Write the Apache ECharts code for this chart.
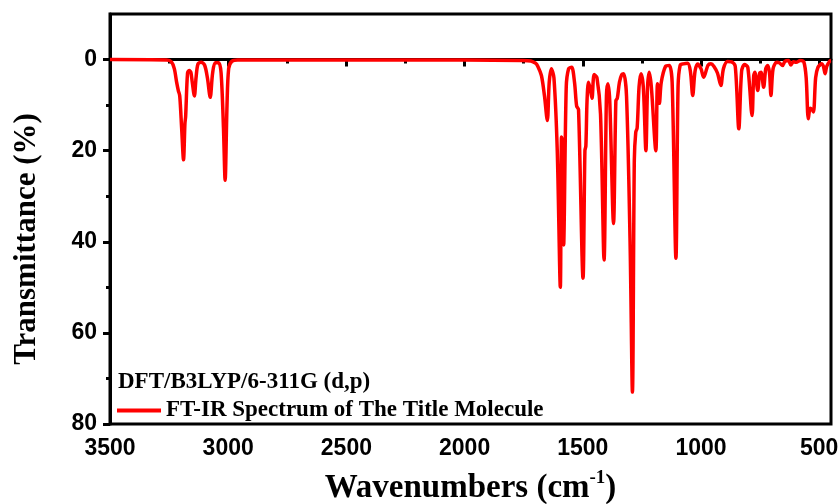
<!DOCTYPE html>
<html>
<head>
<meta charset="utf-8">
<script src="https://cdn.jsdelivr.net/npm/echarts@6/dist/echarts.min.js"></script>
<style>
  html, body { margin: 0; padding: 0; background: #fff; }
  #main { width: 840px; height: 504px; }
</style>
</head>
<body>
<div id="main"></div>
<script>
// spectrum: wavenumber (cm-1) and transmittance (%)
const wavenumber = [
  3500, 3260, 3240, 3228, 3218, 3211, 3205, 3197, 3189, 3183, 3180, 3172, 3165, 3158, 3152, 3143,
  3136, 3128, 3115, 3100, 3088, 3076, 3066, 3055, 3040, 3030, 3020, 3013, 3005, 2998, 2985, 2960,
  2500, 2000, 1760,
  1720, 1700, 1690, 1675, 1662, 1650, 1642, 1633, 1622, 1608, 1595, 1590, 1586, 1581, 1570, 1560,
  1547, 1535, 1526, 1518, 1499, 1491, 1487, 1482, 1476, 1468, 1461, 1452, 1440, 1425, 1410, 1400,
  1394, 1386, 1370, 1360, 1354, 1345, 1335, 1327, 1315, 1300, 1290, 1282, 1276, 1270, 1262, 1254,
  1244, 1233, 1226, 1219, 1210, 1191, 1184, 1176, 1168, 1150, 1134, 1122, 1106, 1097, 1088, 1075,
  1057, 1045, 1035, 1025, 1014, 1000, 989, 982, 970, 958, 945, 930, 916, 905, 888, 870,
  855, 840, 828, 816, 802, 784, 777, 772, 760, 752, 746, 735, 726, 718, 710, 704,
  695, 680, 669, 655, 645, 630, 620, 610, 597, 580, 565, 555, 546, 538, 530, 524,
  515, 505, 490, 482, 475, 468, 455, 450
]
const transmittance = [
  0, 0.1, 0.5, 2, 5, 6.8, 8, 15, 22, 14, 12.5, 3, 2.4, 2.8, 5, 8,
  4, 1, 0.6, 1.2, 4, 8.3, 3, 0.7, 0.7, 3, 15, 26.5, 10, 2, 0.4, 0.1,
  0.1, 0.1, 0.2,
  0.3, 0.8, 1.5, 3.5, 8, 13.4, 5, 2, 4, 20, 50, 17, 18, 40.7, 6, 2,
  1.7, 5, 10.2, 11, 48, 20, 19, 9, 5, 6.5, 8.5, 3.3, 4, 12, 44, 8,
  5.3, 9, 36, 9, 8.5, 5, 3.3, 3.1, 8, 40, 73, 22, 16, 15, 6, 3.1,
  6, 20, 6, 2.8, 6, 20, 5.3, 9.6, 5, 1.5, 1.3, 5, 43.6, 6, 1.2, 0.95,
  0.8, 2.5, 7.9, 2.5, 0.95, 2, 3.9, 3.1, 1.2, 0.9, 1.5, 3, 5.7, 2, 0.4, 0.5,
  1.5, 15.2, 2.5, 1.1, 1.7, 12.3, 3.5, 2.8, 6.8, 3, 2.8, 6.1, 2, 1.3, 3, 7.9,
  2, 0.6, 0.7, 1.3, 0.4, 0.2, 1.2, 0.5, 0.6, 0.2, 0.5, 4, 13, 10.7, 11, 11.5,
  4, 1.7, 0.9, 1.5, 3.1, 1.5, 0.3, 0.2
]
const xTicks = [3500, 3000, 2500, 2000, 1500, 1000, 500]
const xMinorTicks = [3250, 2750, 2250, 1750, 1250, 750]
const yTicks = [0, 20, 40, 60, 80]
const yMinorTicks = [10, 30, 50, 70]

const seriesName = 'FT-IR Spectrum of The Title Molecule'
const serif = '"Liberation Serif", "Times New Roman", serif'
const sans = '"Liberation Sans", Arial, sans-serif'

const chart = echarts.init(document.getElementById('main'))

// plain numbers, no thousands separator
const tickLabel = { color: '#000', fontFamily: sans, fontWeight: 'bold', fontSize: 23, formatter: v => String(v) }

chart.setOption({
  animation: false,
  title: {
    text: 'DFT/B3LYP/6-311G (d,p)',
    left: 113,
    top: 366,
    textStyle: { fontFamily: serif, fontWeight: 'bold', fontSize: 23, color: '#000' }
  },
  legend: {
    data: [seriesName],
    left: 112,
    top: 394,
    icon: 'rect',
    itemWidth: 44,
    itemHeight: 4,
    itemGap: 8,
    textStyle: { fontFamily: serif, fontWeight: 'bold', fontSize: 23, color: '#000' }
  },
  grid: {
    left: 110, right: 9, top: 14, bottom: 80,
    outerBoundsMode: 'none',
    show: true, borderColor: '#000', borderWidth: 3
  },
  xAxis: [
    {
      type: 'value', min: 450, max: 3500, inverse: true,
      name: '{a|Wavenumbers (cm}{s|-1}{a|)}',
      nameLocation: 'middle', nameGap: 45,
      nameTextStyle: {
        rich: {
          a: { fontFamily: serif, fontWeight: 'bold', fontSize: 33, color: '#000', lineHeight: 38 },
          s: { fontFamily: serif, fontWeight: 'bold', fontSize: 19, color: '#000', verticalAlign: 'top', lineHeight: 38 }
        }
      },
      axisLine: { lineStyle: { color: '#000', width: 3 } },
      axisTick: { customValues: xTicks, length: 7, lineStyle: { width: 3, color: '#000' } },
      axisLabel: Object.assign({ customValues: xTicks, margin: 13 }, tickLabel),
      splitLine: { show: false }
    },
    {
      type: 'value', min: 450, max: 3500, inverse: true, position: 'bottom',
      axisLine: { show: false },
      axisTick: { customValues: xMinorTicks, length: 4, lineStyle: { width: 3, color: '#000' } },
      axisLabel: { show: false },
      splitLine: { show: false }
    }
  ],
  yAxis: [
    {
      type: 'value', min: -10, max: 80, inverse: true,
      name: 'Transmittance (%)',
      nameLocation: 'middle', nameGap: 68,
      nameTextStyle: { fontFamily: serif, fontWeight: 'bold', fontSize: 31, color: '#000', padding: [0, 40, 0, 0] },
      axisLine: { lineStyle: { color: '#000', width: 3 } },
      axisTick: { customValues: yTicks, length: 7, lineStyle: { width: 3, color: '#000' } },
      axisLabel: Object.assign({ customValues: yTicks, margin: 13 }, tickLabel),
      splitLine: { show: false }
    },
    {
      type: 'value', min: -10, max: 80, inverse: true, position: 'left',
      axisLine: { show: false },
      axisTick: { customValues: yMinorTicks, length: 4, lineStyle: { width: 3, color: '#000' } },
      axisLabel: { show: false },
      splitLine: { show: false }
    }
  ],
  series: [
    {
      name: seriesName,
      type: 'line',
      xAxisIndex: 0,
      yAxisIndex: 0,
      data: wavenumber.map((w, i) => [w, transmittance[i]]),
      showSymbol: false,
      smooth: 0.3,
      color: '#ff0000',
      lineStyle: { color: '#ff0000', width: 3.5 }
    }
  ]
})
</script>
</body>
</html>
